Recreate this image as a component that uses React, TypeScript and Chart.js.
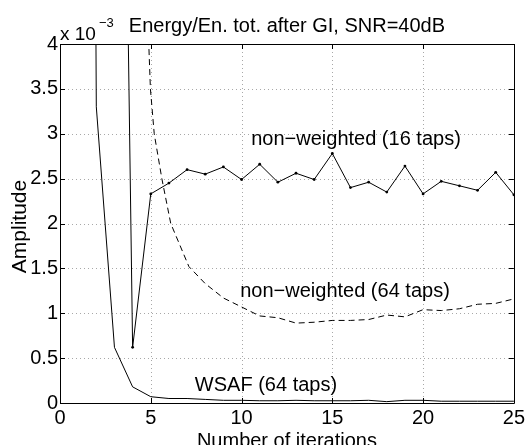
import React, { useEffect, useRef } from "react";
import { Chart, registerables } from "chart.js";

Chart.register(...registerables);

// ---- Data (amplitude in units of 1e-3) ----
const iterations = [1, 2, 3, 4, 5, 6, 7, 8, 9, 10, 11, 12, 13, 14, 15, 16, 17, 18, 19, 20, 21, 22, 23, 24, 25];

const wsafValues = [40, 3.3, 0.62, 0.18, 0.07, 0.05, 0.05, 0.04, 0.03, 0.03, 0.025, 0.025, 0.03, 0.025, 0.025, 0.025, 0.03, 0.015, 0.03, 0.03, 0.02, 0.02, 0.02, 0.02, 0.02];

const taps16Values = [null, null, 15, 0.62, 2.33, 2.45, 2.6, 2.55, 2.63, 2.49, 2.66, 2.46, 2.56, 2.49, 2.78, 2.4, 2.46, 2.35, 2.64, 2.33, 2.47, 2.42, 2.37, 2.57, 2.32];

const taps64Iterations = [4.8, 4.98, 5.19, 5.61, 6.1, 7.1, 8, 9, 10, 11, 12, 13, 14, 15, 16, 17, 18, 19, 20, 21, 22, 23, 24, 25];
const taps64Values = [4.5, 3.5, 3.0, 2.5, 2.0, 1.52, 1.33, 1.17, 1.07, 0.97, 0.95, 0.89, 0.9, 0.92, 0.92, 0.93, 0.98, 0.96, 1.04, 1.03, 1.05, 1.1, 1.11, 1.16];

const xTicks = [0, 5, 10, 15, 20, 25];
const yTicks = [0, 0.5, 1, 1.5, 2, 2.5, 3, 3.5, 4];

const titleText = "Energy/En. tot. after GI, SNR=40dB";
const xAxisTitle = "Number of iterations";
const yAxisTitle = "Amplitude";
const label16 = "non\u2212weighted (16 taps)";
const label64 = "non\u2212weighted (64 taps)";
const labelWsaf = "WSAF (64 taps)";

const FONT = "'Liberation Sans', Arial, Helvetica, sans-serif";

const gridPlugin = {
  id: "dottedGrid",
  beforeDatasetsDraw(chart: any) {
    const { ctx, chartArea } = chart;
    const { left, right, top, bottom } = chartArea;
    const xs = chart.scales.x;
    const ys = chart.scales.y;
    ctx.save();
    ctx.strokeStyle = "#a8a8a8";
    ctx.lineWidth = 1;
    ctx.setLineDash([1, 3]);
    ctx.beginPath();
    xTicks.slice(1, -1).forEach((v) => {
      const px = Math.round(xs.getPixelForValue(v)) + 0.5;
      ctx.moveTo(px, top);
      ctx.lineTo(px, bottom);
    });
    yTicks.slice(1, -1).forEach((v) => {
      const py = Math.round(ys.getPixelForValue(v)) + 0.5;
      ctx.moveTo(left, py);
      ctx.lineTo(right, py);
    });
    ctx.stroke();
    ctx.restore();
  },
};

const decorPlugin = {
  id: "decor",
  afterDraw(chart: any) {
    const { ctx, chartArea } = chart;
    const { left, right, top, bottom } = chartArea;
    const xs = chart.scales.x;
    const ys = chart.scales.y;
    ctx.save();
    // box
    ctx.strokeStyle = "#000";
    ctx.lineWidth = 1;
    ctx.beginPath();
    ctx.rect(Math.round(left) + 0.5, Math.round(top) + 0.5, Math.round(right - left), Math.round(bottom - top));
    ctx.stroke();
    // inward ticks
    ctx.beginPath();
    const tl = 5;
    xTicks.forEach((v) => {
      const px = Math.round(xs.getPixelForValue(v)) + 0.5;
      ctx.moveTo(px, bottom);
      ctx.lineTo(px, bottom - tl);
      ctx.moveTo(px, top);
      ctx.lineTo(px, top + tl);
    });
    yTicks.forEach((v) => {
      const py = Math.round(ys.getPixelForValue(v)) + 0.5;
      ctx.moveTo(left, py);
      ctx.lineTo(left + tl, py);
      ctx.moveTo(right, py);
      ctx.lineTo(right - tl, py);
    });
    ctx.stroke();

    ctx.fillStyle = "#000";
    // title
    ctx.font = `20px ${FONT}`;
    ctx.textAlign = "center";
    ctx.textBaseline = "alphabetic";
    ctx.fillText(titleText, (left + right) / 2, 32);
    // exponent
    ctx.textAlign = "left";
    ctx.font = `19px ${FONT}`;
    ctx.fillText("x 10", 60, 40);
    ctx.font = `13px ${FONT}`;
    ctx.fillText("\u22123", 99, 27);
    // x axis title
    ctx.font = `20px ${FONT}`;
    ctx.textAlign = "center";
    ctx.fillText(xAxisTitle, (left + right) / 2, 447);
    // y axis title
    ctx.save();
    ctx.translate(26, (top + bottom) / 2 + 3);
    ctx.rotate(-Math.PI / 2);
    ctx.font = `21px ${FONT}`;
    ctx.textAlign = "center";
    ctx.fillText(yAxisTitle, 0, 0);
    ctx.restore();
    // annotations
    ctx.font = `20px ${FONT}`;
    ctx.textAlign = "center";
    ctx.textBaseline = "middle";
    ctx.fillText(label16, 356, 139);
    ctx.fillText(label64, 345, 291);
    ctx.fillText(labelWsaf, 266, 385);
    ctx.restore();
  },
};

export default function App() {
  const canvasRef = useRef<HTMLCanvasElement | null>(null);

  useEffect(() => {
    const canvas = canvasRef.current;
    if (!canvas) return;
    const chart = new Chart(canvas, {
      type: "line",
      data: {
        datasets: [
          {
            label: "WSAF (64 taps)",
            data: iterations.map((x, i) => ({ x, y: wsafValues[i] })),
            borderColor: "#000",
            backgroundColor: "#000",
            borderWidth: 1,
            pointRadius: 0,
            fill: false,
            tension: 0,
          },
          {
            label: "non-weighted (16 taps)",
            data: iterations.map((x, i) => ({ x, y: taps16Values[i] })),
            borderColor: "#000",
            backgroundColor: "#000",
            borderWidth: 1,
            pointRadius: 1.4,
            pointBorderWidth: 0,
            pointBackgroundColor: "#000",
            fill: false,
            tension: 0,
          },
          {
            label: "non-weighted (64 taps)",
            data: taps64Iterations.map((x, i) => ({ x, y: taps64Values[i] })),
            borderColor: "#000",
            backgroundColor: "#000",
            borderWidth: 1,
            borderDash: [6, 4],
            pointRadius: 0,
            fill: false,
            tension: 0,
          },
        ],
      },
      options: {
        animation: false,
        responsive: false,
        maintainAspectRatio: false,
        layout: { padding: { left: 0, right: 12, top: 44, bottom: 0 } },
        plugins: {
          legend: { display: false },
          title: { display: false },
          tooltip: { enabled: false },
        },
        scales: {
          x: {
            type: "linear",
            min: 0,
            max: 25,
            afterFit: (s: any) => {
              s.height = 42;
            },
            afterBuildTicks: (s: any) => {
              s.ticks = xTicks.map((v) => ({ value: v }));
            },
            ticks: {
              color: "#000",
              font: { family: FONT, size: 20 },
              padding: 3,
              maxRotation: 0,
              autoSkip: false,
              callback: (v: any) => String(v),
            },
            grid: { display: false, drawTicks: false },
            border: { display: false },
          },
          y: {
            type: "linear",
            min: 0,
            max: 4,
            afterFit: (s: any) => {
              s.width = 60;
            },
            afterBuildTicks: (s: any) => {
              s.ticks = yTicks.map((v) => ({ value: v }));
            },
            ticks: {
              color: "#000",
              font: { family: FONT, size: 20 },
              padding: 2,
              autoSkip: false,
              callback: (v: any) => String(v),
            },
            grid: { display: false, drawTicks: false },
            border: { display: false },
          },
        },
      },
      plugins: [gridPlugin, decorPlugin],
    });
    return () => chart.destroy();
  }, []);

  return (
    <div style={{ position: "fixed", left: 0, top: 0, width: 528, height: 445, background: "#fff" }}>
      <canvas ref={canvasRef} width={528} height={445} style={{ display: "block", width: 528, height: 445 }} />
    </div>
  );
}
